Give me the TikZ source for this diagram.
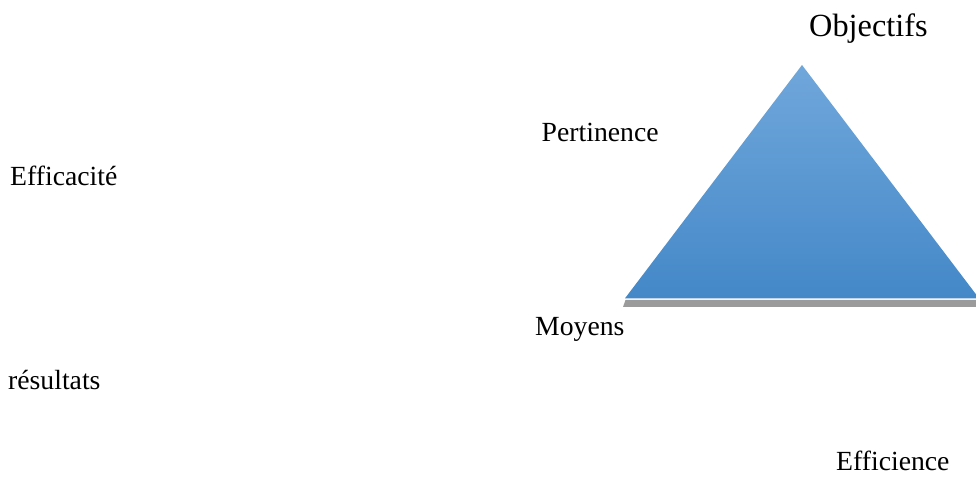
\documentclass[tikz,border=0pt]{standalone}
\usepackage{fontspec}
\setmainfont{Liberation Serif}
\begin{document}
\begin{tikzpicture}[x=1pt,y=1pt,
  lbl/.style={anchor=base west,inner sep=0pt,font=\fontsize{27.7}{33}\selectfont},
  biglbl/.style={anchor=base west,inner sep=0pt,font=\fontsize{32.3}{38}\selectfont}]
\definecolor{triTop}{RGB}{112,167,219}
\definecolor{triBot}{RGB}{68,136,200}
\definecolor{shadowgray}{RGB}{155,155,155}
\useasboundingbox (0,0) rectangle (976,478);
\begin{scope}
\clip (0,0) rectangle (976,478);
\fill[shadowgray] (625.5,178) -- (990,178) -- (990,171) -- (623,171) -- cycle;
\shade[top color=triTop,bottom color=triBot] (625,179.7) -- (802,413) -- (979,179.7) -- cycle;
\end{scope}
\node[biglbl] (obj) at (809,441) {Objectifs};
\node[lbl] (pert) at (541.5,336.5) {Pertinence};
\node[lbl] (effa) at (10,292) {Efficacité};
\node[lbl] (moy) at (535,142) {Moyens};
\node[lbl] (res) at (8,88) {résultats};
\node[lbl] (effi) at (836,7) {Efficience};
\end{tikzpicture}
\end{document}
